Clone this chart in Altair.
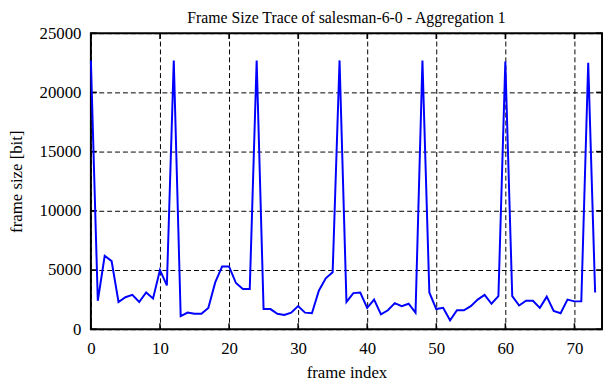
import altair as alt
import pandas as pd

frames = list(range(74))
sizes = [22700, 2400, 6200, 5750, 2300, 2700, 2900, 2300, 3100, 2600,
         5000, 3700, 22700, 1100, 1400, 1300, 1300, 1800, 3950, 5300,
         5300, 3900, 3400, 3400, 22700, 1700, 1700, 1300, 1200, 1400,
         1950, 1400, 1350, 3250, 4300, 4800, 22700, 2300, 3050, 3100,
         1800, 2500, 1250, 1600, 2200, 1950, 2150, 1400, 22700, 3100,
         1700, 1800, 750, 1600, 1600, 1950, 2500, 2900, 2150, 2800,
         22600, 2800, 2000, 2400, 2400, 1800, 2750, 1550, 1350, 2500,
         2350, 2350, 22500, 3100]
x_ticks = [0, 10, 20, 30, 40, 50, 60, 70]
y_ticks = [0, 5000, 10000, 15000, 20000, 25000]

W, H = 518, 300
FONT = "Liberation Serif"

df = pd.DataFrame({"frame": frames, "size": sizes})
xt = pd.DataFrame({"frame": x_ticks})
yt = pd.DataFrame({"size": y_ticks})

xscale = alt.Scale(domain=[0, 74], nice=False, zero=False)
yscale = alt.Scale(domain=[0, 25000], nice=False)

xaxis = alt.Axis(values=x_ticks, grid=True, gridDash=[5, 3], gridColor="black",
                 gridOpacity=1, gridWidth=1, ticks=False, domain=False,
                 labelFlush=False, labelPadding=12, titlePadding=8, format="d")
yaxis = alt.Axis(values=y_ticks, grid=True, gridDash=[5, 3], gridColor="black",
                 gridOpacity=1, gridWidth=1, ticks=False, domain=False,
                 labelFlush=False, labelPadding=10, titlePadding=14, format="d")
X = lambda: alt.X("frame:Q", scale=xscale, title="frame index", axis=xaxis)
Y = lambda: alt.Y("size:Q", scale=yscale, title="frame size [bit]", axis=yaxis)

line = alt.Chart(df).mark_line(color="#0000ff", strokeWidth=2).encode(x=X(), y=Y())

tb = alt.Chart(xt).mark_rule(color="black", strokeWidth=1.5).encode(
    x=X(), y=alt.value(H), y2=alt.value(H - 6))
tt = alt.Chart(xt).mark_rule(color="black", strokeWidth=1.5).encode(
    x=X(), y=alt.value(0), y2=alt.value(6))
tl = alt.Chart(yt).mark_rule(color="black", strokeWidth=1.5).encode(
    y=Y(), x=alt.value(0), x2=alt.value(6))
tr = alt.Chart(yt).mark_rule(color="black", strokeWidth=1.5).encode(
    y=Y(), x=alt.value(W), x2=alt.value(W - 6))

chart = alt.layer(tb, tt, tl, tr, line).properties(
    width=W, height=H,
    title=alt.TitleParams("Frame Size Trace of salesman-6-0 - Aggregation 1",
                          font=FONT, fontSize=16, fontWeight="normal", color="black",
                          anchor="middle", offset=-2),
    autosize=alt.AutoSizeParams(type="none"),
    padding={"left": 84, "top": 23, "right": 2, "bottom": 51},
    background="white",
).configure_view(stroke="black", strokeWidth=2).configure_axis(
    labelFont=FONT, labelFontSize=17, labelColor="black",
    titleFont=FONT, titleFontSize=17, titleFontWeight="normal", titleColor="black",
)

chart.save("out.html", embed_options={"renderer": "svg", "actions": False})
